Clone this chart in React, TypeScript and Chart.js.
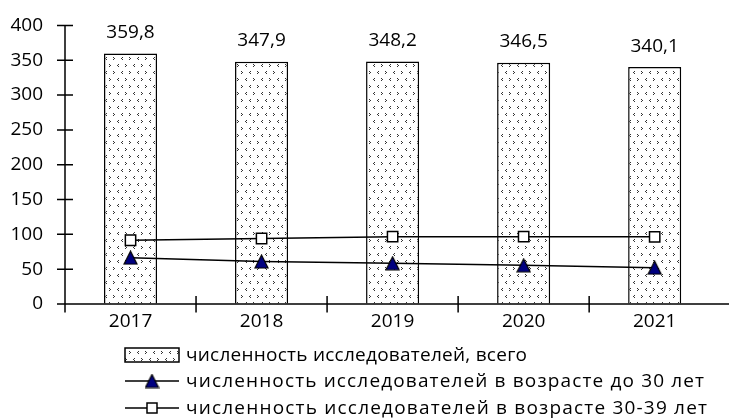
import React, { useEffect, useRef } from "react";
import { Chart, registerables } from "chart.js";

Chart.register(...registerables);

const years = ["2017", "2018", "2019", "2020", "2021"];
const totalResearchers = [359.8, 347.9, 348.2, 346.5, 340.1];
const under30 = [66.5, 61, 58.5, 55.5, 52.2];
const age30to39 = [91.5, 94, 96.7, 96.7, 96.5];
const yTicks = [0, 50, 100, 150, 200, 250, 300, 350, 400];
const legendLabels = [
  "численность исследователей, всего",
  "численность исследователей в возрасте до 30 лет",
  "численность исследователей в возрасте 30-39 лет",
];

const FONT_FAMILY = "'Open Sans', sans-serif";
const FONT_SIZE = 19;
const W = 729;
const H = 418;
// legend layout (right ends of legend rows)
const LEGEND_ROW_Y = [355, 381, 408];
const LEGEND_ROW_END = [527, 704, 707];

function makePattern(): CanvasPattern | string {
  const c = document.createElement("canvas");
  c.width = 16;
  c.height = 14;
  const g = c.getContext("2d");
  if (!g) return "#fff";
  g.fillStyle = "#fff";
  g.fillRect(0, 0, 16, 14);
  g.fillStyle = "#333";
  const gt = (x: number, y: number) => {
    g.fillRect(x, y, 1, 1);
    g.fillRect(x + 1, y + 1, 1, 1);
    g.fillRect(x, y + 2, 1, 1);
  };
  const lt = (x: number, y: number) => {
    g.fillRect(x + 1, y, 1, 1);
    g.fillRect(x, y + 1, 1, 1);
    g.fillRect(x + 1, y + 2, 1, 1);
  };
  gt(1, 1);
  lt(9, 1);
  lt(5, 8);
  gt(13, 8);
  const p = g.createPattern(c, "repeat");
  return p || "#fff";
}

function makeTriangle(): HTMLCanvasElement {
  const c = document.createElement("canvas");
  c.width = 15;
  c.height = 15;
  const g = c.getContext("2d");
  if (g) {
    g.beginPath();
    g.moveTo(7.5, 1);
    g.lineTo(14, 14);
    g.lineTo(1, 14);
    g.closePath();
    g.fillStyle = "#000080";
    g.fill();
    g.strokeStyle = "#000";
    g.lineWidth = 1.2;
    g.stroke();
  }
  return c;
}

export default function App() {
  const ref = useRef<HTMLCanvasElement>(null);

  useEffect(() => {
    document.body.style.margin = "0";
    const canvas = ref.current;
    if (!canvas) return;
    const pattern = makePattern();
    const tri = makeTriangle();
    const font = `${FONT_SIZE}px ${FONT_FAMILY}`;

    const customPlugin = {
      id: "custom",
      afterDatasetsDraw(chart: any) {
        const ctx = chart.ctx;
        const meta = chart.getDatasetMeta(0);
        ctx.save();
        ctx.font = font;
        ctx.fillStyle = "#000";
        ctx.textAlign = "center";
        ctx.textBaseline = "middle";
        meta.data.forEach((bar: any, i: number) => {
          ctx.fillText(
            totalResearchers[i].toFixed(1).replace(".", ","),
            bar.x,
            bar.y - 21
          );
        });
        ctx.restore();
      },
      afterDraw(chart: any) {
        const ctx = chart.ctx;
        const xs = chart.scales.x;
        const ys = chart.scales.y;
        const area = chart.chartArea;
        const y0 = ys.getPixelForValue(0);
        ctx.save();
        ctx.strokeStyle = "#000";
        ctx.lineWidth = 1.5;
        ctx.beginPath();
        ctx.moveTo(area.left, ys.getPixelForValue(400));
        ctx.lineTo(area.left, y0 + 8.5);
        yTicks.forEach((v) => {
          const py = ys.getPixelForValue(v);
          ctx.moveTo(area.left - 8, py);
          ctx.lineTo(area.left + 8, py);
        });
        ctx.moveTo(area.left, y0);
        ctx.lineTo(W, y0);
        for (let i = 1; i < years.length; i++) {
          const px =
            (xs.getPixelForValue(i - 1) + xs.getPixelForValue(i)) / 2;
          ctx.moveTo(px, y0 - 8);
          ctx.lineTo(px, y0 + 8.5);
        }
        ctx.stroke();

        // legend
        const symL = 125;
        const symR = 179;
        const textX = 186;
        const rows = LEGEND_ROW_Y;
        ctx.font = font;
        ctx.textAlign = "left";
        ctx.textBaseline = "middle";
        ctx.fillStyle = pattern as any;
        ctx.fillRect(symL, rows[0] - 7, symR - symL, 14);
        ctx.lineWidth = 1.5;
        ctx.strokeRect(symL, rows[0] - 7, symR - symL, 14);
        ctx.beginPath();
        ctx.moveTo(symL, rows[1]);
        ctx.lineTo(symR, rows[1]);
        ctx.moveTo(symL, rows[2]);
        ctx.lineTo(symR, rows[2]);
        ctx.stroke();
        const cx = (symL + symR) / 2;
        ctx.drawImage(tri, cx - tri.width / 2, rows[1] - tri.height / 2);
        ctx.fillStyle = "#fff";
        ctx.fillRect(cx - 5, rows[2] - 5, 10, 10);
        ctx.lineWidth = 1.5;
        ctx.strokeRect(cx - 5, rows[2] - 5, 10, 10);
        ctx.fillStyle = "#000";
        legendLabels.forEach((t, i) => {
          const chars = Array.from(t);
          const natural = ctx.measureText(t).width;
          const target = LEGEND_ROW_END[i] - textX;
          let extra = chars.length > 1 ? (target - natural) / (chars.length - 1) : 0;
          if (extra < 0) extra = 0;
          let x = textX;
          let prefix = "";
          chars.forEach((ch, k) => {
            ctx.fillText(ch, textX + ctx.measureText(prefix).width + extra * k, rows[i] + 1);
            prefix += ch;
          });
          void x;
        });
        ctx.restore();
      },
    };

    const chart = new Chart(canvas, {
      type: "bar",
      data: {
        labels: years,
        datasets: [
          {
            type: "bar",
            label: legendLabels[0],
            data: totalResearchers,
            backgroundColor: pattern as any,
            borderColor: "#000",
            borderWidth: 1.5,
            barPercentage: 0.405,
            categoryPercentage: 1,
            order: 3,
          },
          {
            type: "line",
            label: legendLabels[1],
            data: under30,
            borderColor: "#000",
            borderWidth: 1.5,
            pointStyle: tri as any,
            pointRadius: 7,
            tension: 0,
            order: 1,
          },
          {
            type: "line",
            label: legendLabels[2],
            data: age30to39,
            borderColor: "#000",
            borderWidth: 1.5,
            pointStyle: "rect",
            pointRadius: 7.3,
            pointBackgroundColor: "#fff",
            pointBorderColor: "#000",
            pointBorderWidth: 1.5,
            tension: 0,
            order: 2,
          },
        ],
      },
      options: {
        responsive: false,
        animation: false,
        devicePixelRatio: 1,
        layout: { padding: { top: 21, left: 0, right: 0, bottom: 0 } },
        plugins: {
          legend: { display: false },
          tooltip: { enabled: false },
        },
        scales: {
          x: {
            offset: true,
            grid: {
              display: true,
              color: "rgba(0,0,0,0)",
              drawTicks: true,
              tickLength: 8,
              offset: true,
            },
            border: { display: false },
            ticks: {
              font: { family: FONT_FAMILY, size: FONT_SIZE },
              color: "#000",
              padding: -2,
              maxRotation: 0,
            },
            afterFit: (s: any) => {
              s.height = 114;
            },
          },
          y: {
            min: 0,
            max: 400,
            grid: {
              display: true,
              color: "rgba(0,0,0,0)",
              drawTicks: true,
              tickLength: 8,
            },
            border: { display: false },
            ticks: {
              stepSize: 50,
              font: { family: FONT_FAMILY, size: FONT_SIZE },
              color: "#000",
              padding: 14,
            },
            afterFit: (s: any) => {
              s.width = 65;
            },
          },
        },
      },
      plugins: [customPlugin],
    });
    return () => chart.destroy();
  }, []);

  return (
    <div style={{ position: "absolute", left: 0, top: 0, width: W, height: H, background: "#fff" }}>
      <canvas ref={ref} width={W} height={H} style={{ width: W, height: H }} />
    </div>
  );
}
